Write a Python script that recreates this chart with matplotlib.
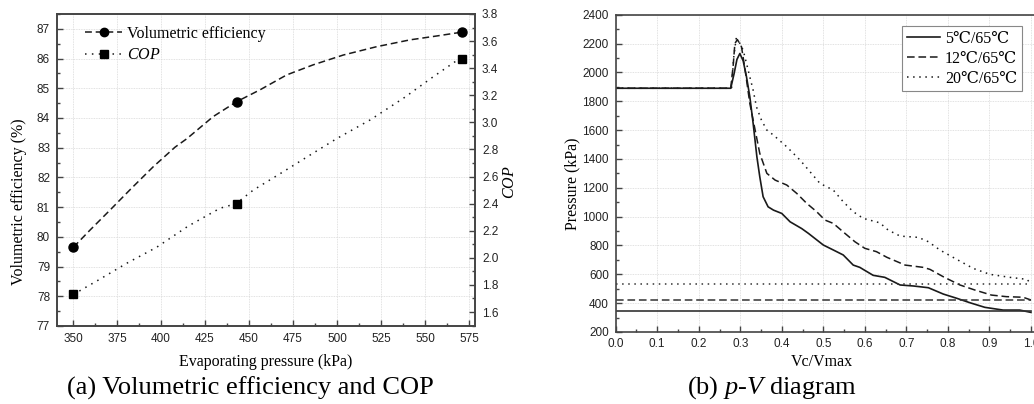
import matplotlib
matplotlib.use("Agg")
import matplotlib.pyplot as plt
from matplotlib.ticker import MultipleLocator

plt.rcParams['font.family'] = ['Liberation Serif', 'DejaVu Serif']
plt.rcParams['mathtext.fontset'] = 'custom'
plt.rcParams['mathtext.it'] = 'Liberation Serif:italic'
plt.rcParams['mathtext.rm'] = 'Liberation Serif'

# (a) volumetric efficiency and COP vs evaporating pressure
pressure_pts = [350, 443, 571]
ve_pts = [79.65, 84.55, 86.9]
cop_pts = [1.73, 2.40, 3.47]

# smooth fit curves
ve_curve_x = [350.2, 359.7, 371, 383.3, 395.6, 408, 414.6, 429.7, 443, 456.3, 471.4,
              486.5, 503.6, 522.5, 541.5, 556.6, 569.9]
ve_curve_y = [79.65, 80.23, 80.9, 81.64, 82.36, 83.02, 83.3, 84.05, 84.55, 84.95, 85.45,
              85.79, 86.12, 86.4, 86.63, 86.76, 86.88]
cop_curve_x = [350.2, 364.4, 380.5, 397.5, 415.5, 433.5, 442.6, 452.4, 469.5, 484.7,
               499.8, 518.8, 537.7, 554.7, 569.9]
cop_curve_y = [1.73, 1.836, 1.96, 2.078, 2.235, 2.366, 2.40, 2.50, 2.636, 2.759,
               2.88, 3.018, 3.178, 3.337, 3.473]

# (b) p-V diagram
x_5 = [0.0, 0.277, 0.285, 0.292, 0.299, 0.307, 0.315, 0.323, 0.331, 0.340, 0.347, 0.355,
       0.367, 0.380, 0.400, 0.420, 0.448, 0.464, 0.500, 0.528, 0.548, 0.572, 0.588, 0.596,
       0.620, 0.648, 0.685, 0.717, 0.753, 0.789, 0.821, 0.853, 0.889, 0.933, 0.973, 1.0]
p_5 = [1890, 1890, 1990, 2090, 2131, 2080, 1969, 1831, 1646, 1415, 1276, 1138,
       1068, 1045, 1022, 964, 917, 884, 803, 763, 734, 664, 648, 634,
       593, 579, 526, 519, 507, 463, 434, 403, 371, 352, 352, 336]
x_12 = [0.0, 0.277, 0.283, 0.287, 0.293, 0.303, 0.313, 0.323, 0.331, 0.347, 0.364, 0.384,
        0.412, 0.436, 0.460, 0.484, 0.504, 0.524, 0.552, 0.576, 0.600, 0.628, 0.653, 0.697,
        0.741, 0.757, 0.789, 0.829, 0.865, 0.905, 0.941, 0.981, 1.0]
p_12 = [1890, 1890, 2050, 2200, 2228, 2177, 1990, 1785, 1669, 1438, 1300, 1253,
        1219, 1161, 1092, 1034, 976, 953, 884, 826, 780, 757, 718, 664,
        648, 634, 583, 526, 491, 456, 445, 441, 422]
x_20 = [0.0, 0.279, 0.284, 0.290, 0.295, 0.307, 0.315, 0.323, 0.331, 0.339, 0.351, 0.364,
        0.380, 0.412, 0.444, 0.468, 0.492, 0.524, 0.548, 0.572, 0.596, 0.636, 0.656, 0.685,
        0.729, 0.753, 0.781, 0.821, 0.861, 0.901, 0.949, 0.990, 1.0]
p_20 = [1890, 1890, 2100, 2235, 2224, 2154, 2062, 1969, 1877, 1761, 1669, 1600,
        1565, 1484, 1392, 1311, 1230, 1184, 1103, 1034, 988, 957, 907, 865,
        856, 826, 768, 704, 641, 600, 579, 565, 537]
p_suc = [348, 422, 530]
labels_pv = ['5℃/65℃', '12℃/65℃', '20℃/65℃']

W, H = 1034, 404
fig = plt.figure(figsize=(W / 100, H / 100), dpi=100)

spine_c = '#444444'
line_c = '#1a1a1a'
grid_kw = dict(color='#d8d8d8', linestyle=(0, (1, 1)), linewidth=0.6)
tick_font = dict(family='Liberation Sans', size=8.5)


def style_axes(ax):
    for s in ax.spines.values():
        s.set_color(spine_c)
        s.set_linewidth(1.2)
    ax.tick_params(which='both', direction='in', colors=spine_c, width=1.0)
    ax.tick_params(which='major', length=4.5, pad=5)
    ax.tick_params(which='minor', length=2.5)
    for lab in ax.get_xticklabels() + ax.get_yticklabels():
        lab.set_fontfamily(tick_font['family'])
        lab.set_fontsize(tick_font['size'])
        lab.set_color('#222222')


# ---- (a)
ax1 = fig.add_axes([57 / W, 1 - 326 / H, 418 / W, 312 / H])
ax2 = ax1.twinx()

ax1.set_xlim(340.9, 578.4)
ax1.set_ylim(77, 87.5)
ax2.set_ylim(1.497, 3.8)
ax1.xaxis.set_major_locator(MultipleLocator(25))
ax1.xaxis.set_minor_locator(MultipleLocator(12.5))
ax1.yaxis.set_major_locator(MultipleLocator(1))
ax1.yaxis.set_minor_locator(MultipleLocator(0.5))
ax2.yaxis.set_major_locator(MultipleLocator(0.2))
ax2.yaxis.set_minor_locator(MultipleLocator(0.1))
ax2.yaxis.set_major_formatter(plt.FormatStrFormatter('%.1f'))
ax1.grid(True, which='major', **grid_kw)
ax1.set_axisbelow(True)

ax1.plot(ve_curve_x, ve_curve_y, color=line_c, lw=1.1, linestyle=(0, (4.5, 2.5)))
ax2.plot(cop_curve_x, cop_curve_y, color=line_c, lw=1.1, linestyle=(0, (1, 3.5)))
ax1.plot(pressure_pts, ve_pts, 'o', color='black', ms=6.5)
ax2.plot(pressure_pts, cop_pts, 's', color='black', ms=6)

h1, = ax1.plot([], [], color=line_c, lw=1.1, linestyle=(0, (4.5, 2.5)), marker='o',
               ms=6, mfc='black', mec='black')
h2, = ax1.plot([], [], color=line_c, lw=1.1, linestyle=(0, (1, 3.5)), marker='s',
               ms=5.5, mfc='black', mec='black')
ax1.legend([h1, h2], ['Volumetric efficiency', '$COP$'], loc='upper left',
           bbox_to_anchor=(0.068, 0.962), frameon=False, fontsize=11.5,
           handlelength=2.3, handletextpad=0.3, borderaxespad=0, borderpad=0,
           labelspacing=0.35)

style_axes(ax1)
style_axes(ax2)
ax1.tick_params(axis='x', which='both', top=False)
ax2.tick_params(axis='x', which='both', top=False)
ax1.tick_params(axis='y', which='both', right=False)
ax2.tick_params(axis='y', which='both', left=False)

ax1.set_xlabel('Evaporating pressure (kPa)', fontsize=11.5)
ax1.xaxis.set_label_coords(0.5, -0.09)
ax1.set_ylabel('Volumetric efficiency (%)', fontsize=11.5)
ax1.yaxis.set_label_coords(-0.072, 0.397)
ax2.set_ylabel('$COP$', fontsize=11.5)
ax2.yaxis.set_label_coords(1.065, 0.462)

fig.text(250.8 / W, 1 - 388 / H, '(a) Volumetric efficiency and COP', fontsize=19,
         ha='center', va='center')

# ---- (b)
ax3 = fig.add_axes([615.7 / W, 1 - 332 / H, 436 / W, 317.3 / H])
ax3.set_xlim(0, 1.05)
ax3.set_ylim(200, 2400)
ax3.xaxis.set_major_locator(MultipleLocator(0.1))
ax3.xaxis.set_minor_locator(MultipleLocator(0.05))
ax3.yaxis.set_major_locator(MultipleLocator(200))
ax3.yaxis.set_minor_locator(MultipleLocator(100))
ax3.xaxis.set_major_formatter(plt.FormatStrFormatter('%.1f'))
ax3.grid(True, which='major', **grid_kw)
ax3.set_axisbelow(True)

styles = ['-', (0, (5, 2.5)), (0, (1, 3))]
widths = [1.2, 1.1, 1.1]
for xs, ps, ls, lw, ps_suc, lab in zip([x_5, x_12, x_20], [p_5, p_12, p_20], styles,
                                      widths, p_suc, labels_pv):
    ax3.plot(xs, ps, color=line_c, lw=lw, linestyle=ls, label=lab)
    ax3.plot([0, 1.0], [ps_suc, ps_suc], color='#333333', lw=lw, linestyle=ls)

leg = ax3.legend(loc='upper right', bbox_to_anchor=(0.932, 0.965), fontsize=11.5,
                 fancybox=False, edgecolor='#888888', framealpha=1,
                 handlelength=2.1, handletextpad=0.3, borderaxespad=0,
                 labelspacing=0.25, borderpad=0.3)
leg.get_frame().set_linewidth(0.8)

style_axes(ax3)
ax3.tick_params(axis='x', which='both', top=False)
ax3.tick_params(axis='y', which='both', right=False)
ax3.spines['right'].set_visible(False)
ax3.tick_params(axis='x', pad=4)

ax3.set_xlabel('Vc/Vmax', fontsize=11.5)
ax3.xaxis.set_label_coords(0.473, -0.069)
ax3.set_ylabel('Pressure (kPa)', fontsize=11.5)
ax3.yaxis.set_label_coords(-0.082, 0.466)

fig.text(771.7 / W, 1 - 388 / H, '(b) $p$-$V$ diagram', fontsize=19,
         ha='center', va='center')

fig.savefig('out.png', dpi=100)
